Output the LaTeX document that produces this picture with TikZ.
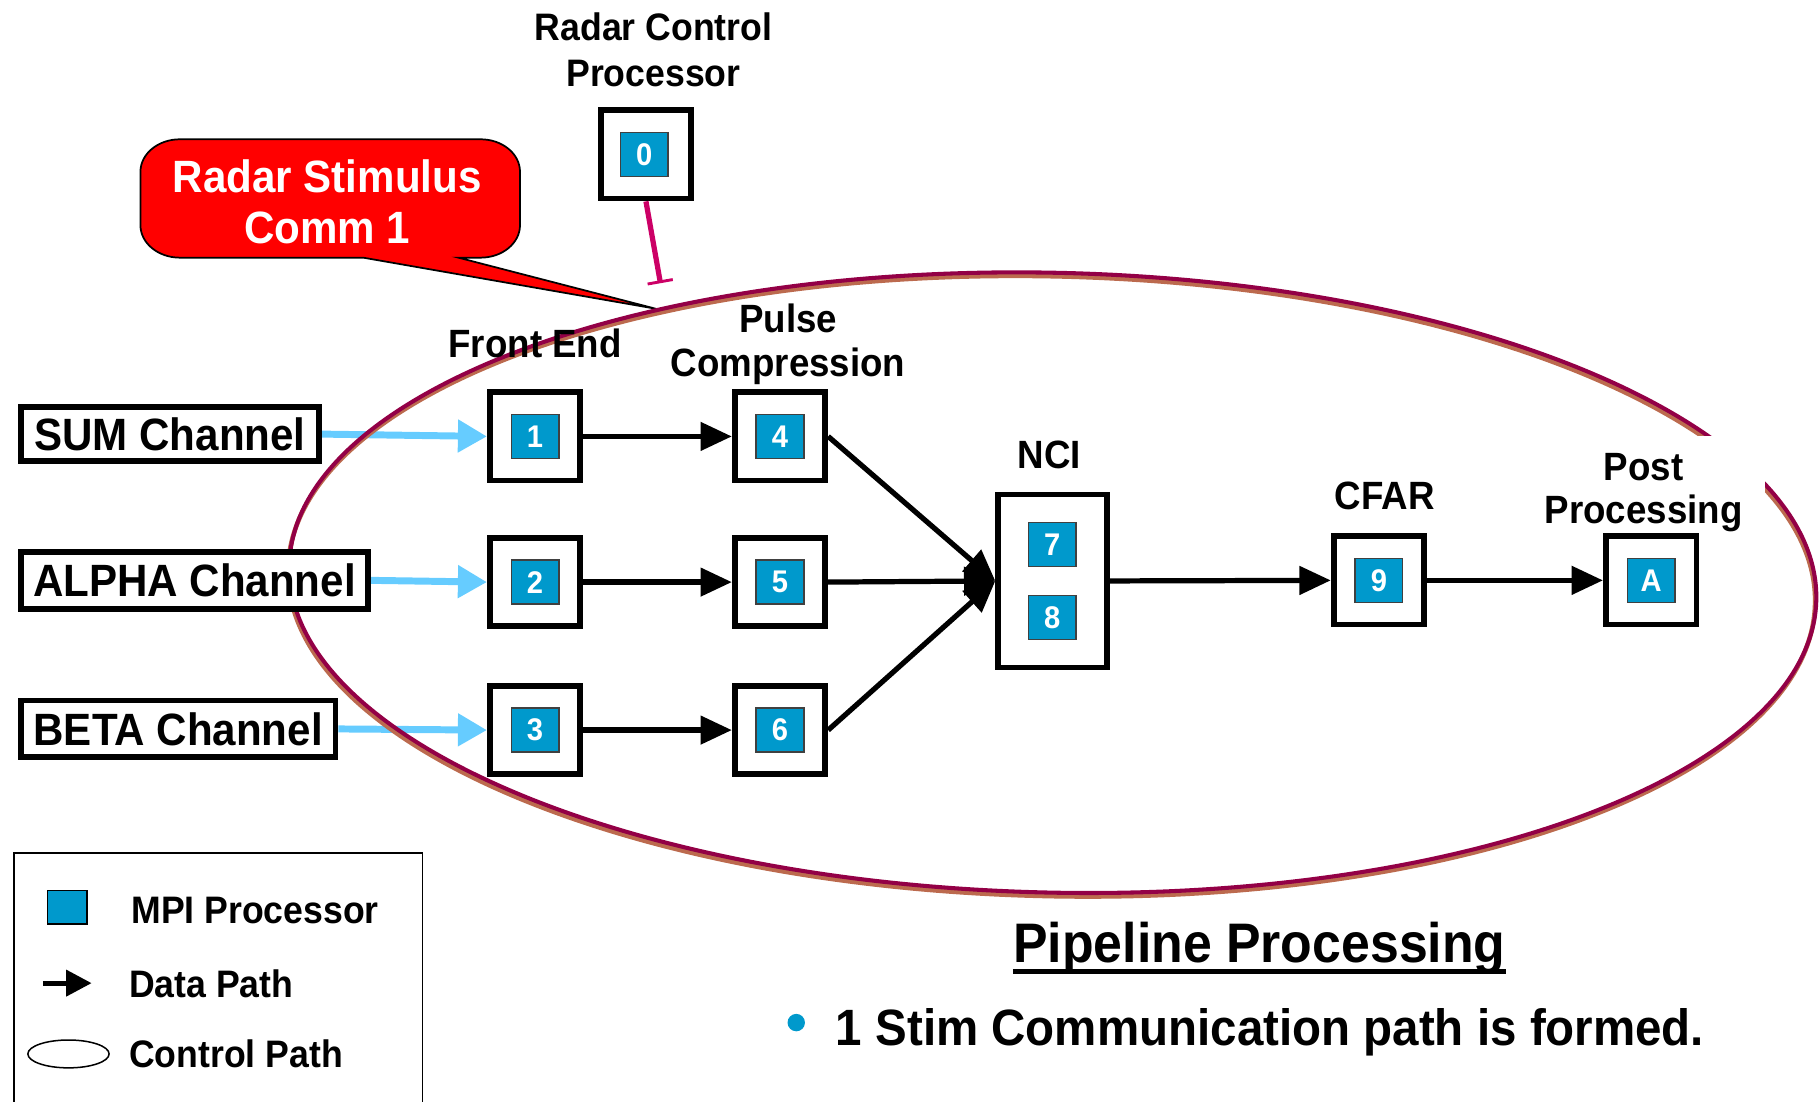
\documentclass[tikz,border=0pt]{standalone}
\usepackage{fontspec}
\setmainfont{Liberation Sans}[FakeStretch=0.93]
\usetikzlibrary{arrows.meta}
\definecolor{mpiblue}{HTML}{0099CC}
\definecolor{feedblue}{HTML}{66CCFF}
\definecolor{ellred}{HTML}{930046}
\definecolor{ellbrown}{HTML}{BC6A4E}
\definecolor{ctrlpink}{HTML}{CC0066}
\newcommand\fsz[2]{\fontsize{#1}{#2}\selectfont\bfseries}
\begin{document}
\begin{tikzpicture}[x=1pt,y=-1pt,
  chan/.style={draw, line width=5pt, fill=white, anchor=west, inner sep=0pt, font=\fsz{39}{44}},
  procbox/.style={draw, line width=5pt, fill=white, minimum width=78pt, minimum height=76pt, inner sep=0pt},
  mpi/.style={draw=black!75, line width=1.3pt, fill=mpiblue, minimum width=41pt, minimum height=38pt, inner sep=0pt, text=white, font=\fsz{27}{30}},
  lbl/.style={align=center, inner sep=0pt, font=\fsz{34}{38}},
  data/.style={line width=4.5pt, -{Triangle[length=27pt,width=24pt]}},
  feed/.style={draw=feedblue, line width=6pt, -{Triangle[length=25pt,width=27pt]}},
  legtxt/.style={anchor=base west, inner sep=0pt, font=\fsz{33}{38}},
]
\useasboundingbox (0,0) rectangle (1568,949);

% Radar control processor
\node[lbl, font=\fsz{33}{40}] (rcplbl) at (563,43) {Radar Control\\Processor};
\node[procbox] (b0) at (556.5,133) {};
\node[mpi] (p0) at (555,133) {0};
\coordinate (ctrlend) at (569,244);
\draw[ctrlpink, line width=4.5pt, -{Bar[width=22pt,line width=2.5pt]}] (b0.south) -- (ctrlend);

% callout
\filldraw[fill=red, draw=black, line width=1.5pt]
  (155,120) -- (414,120) arc(270:360:34 and 28) -- (448,194) arc(0:90:34 and 28)
  -- (395,222) -- (565,266) -- (313,222) -- (155,222) arc(90:180:34 and 28)
  -- (121,148) arc(180:270:34 and 28) -- cycle;
\node[align=center, inner sep=0pt, text=white, font=\fsz{39}{44}] (callout) at (282,174) {Radar Stimulus\\Comm 1};

% processor boxes
\node[procbox] (b1) at (461,376) {};
\node[procbox] (b2) at (461,501.5) {};
\node[procbox] (b3) at (461,629) {};
\node[procbox] (b4) at (672,376) {};
\node[procbox] (b5) at (672,501.5) {};
\node[procbox] (b6) at (672,629) {};
\node[procbox, minimum width=94pt, minimum height=149pt] (nci) at (907,500.5) {};
\node[procbox] (b9) at (1188,500) {};

% channel boxes
\path (15.5,374) coordinate (sumw) (15.5,500) coordinate (alphaw) (15.5,628) coordinate (betaw);
\node[chan, minimum width=257pt, minimum height=47pt] (chsum) at (sumw) {SUM Channel};
\node[chan, minimum width=299pt, minimum height=49pt] (chalpha) at (alphaw) {ALPHA Channel};
\node[chan, minimum width=271pt, minimum height=49pt] (chbeta) at (betaw) {BETA Channel};

% feed arrows
\draw[feed] (chsum.east) -- (b1.west);
\draw[feed] (chalpha.east) -- (b2.west);
\draw[feed] (chbeta.east) -- (b3.west);

% control path ellipse
\draw[ellbrown, line width=4pt, rotate around={-1.3:(906,505)}] (906,505) ellipse (658 and 267);
\draw[ellred, line width=3.5pt, rotate around={-1.3:(907,502)}] (907,502) ellipse (658 and 267);

% channel boxes drawn again above the ellipse
\node[chan, minimum width=257pt, minimum height=47pt] at (sumw) {SUM Channel};
\node[chan, minimum width=299pt, minimum height=49pt] at (alphaw) {ALPHA Channel};
\node[chan, minimum width=271pt, minimum height=49pt] at (betaw) {BETA Channel};

% white patch behind Post Processing label
\fill[white] (1328,376) rectangle (1521,456);
\node[procbox] (bA) at (1422.5,500) {};

% inner MPI processors
\node[mpi] (p1) at (b1) {1};
\node[mpi] (p2) at (b2) {2};
\node[mpi] (p3) at (b3) {3};
\node[mpi] (p4) at (b4) {4};
\node[mpi] (p5) at (b5) {5};
\node[mpi] (p6) at (b6) {6};
\node[mpi] (p7) at (906.5,469) {7};
\node[mpi] (p8) at (906.5,532) {8};
\node[mpi] (p9) at (b9) {9};
\node[mpi] (pA) at (bA) {A};

% data paths
\draw[data] (b1.east) -- (b4.west);
\draw[data] (b2.east) -- (b5.west);
\draw[data] (b3.east) -- (b6.west);
\draw[data] (b4.east) -- (nci.west);
\draw[data] (b5.east) -- (nci.west);
\draw[data] (b6.east) -- (nci.west);
\draw[data] (nci.east) -- (b9.west);
\draw[data] (b9.east) -- (bA.west);

% stage labels
\node[lbl] (lfe) at (461,296) {Front End};
\node[lbl] (lpc) at (679,297) {Pulse\\Compression};
\node[lbl] (lnci) at (904,392) {NCI};
\node[lbl] (lcfar) at (1193,427) {CFAR};
\node[lbl, font=\fsz{34}{37}] (lpp) at (1416,424) {Post\\Processing};

% legend
\draw[line width=1.3pt] (12,955) -- (12,735) -- (364,735) -- (364,955);
\node[draw=black, line width=1.2pt, fill=mpiblue, minimum width=34pt, minimum height=29pt, inner sep=0pt] (legsq) at (58,781.5) {};
\node[legtxt] (legmpi) at (113,796) {MPI Processor};
\coordinate (legas) at (37,847);
\coordinate (legae) at (79,847);
\draw[line width=4.5pt, -{Triangle[length=22pt,width=22pt]}] (legas) -- (legae);
\node[legtxt] (legdata) at (111,859) {Data Path};
\draw[line width=1.3pt] (59,908) ellipse (35 and 12);
\node[legtxt] (legctrl) at (111,920) {Control Path};

% title and bullet
\node[anchor=base, inner sep=0pt, font=\fsz{48}{54}] (title) at (1085,829) {Pipeline Processing};
\draw[line width=4pt] ([yshift=-8pt]title.base west) -- ([yshift=-8pt]title.base east);
\fill[mpiblue] (686,881) circle (7.5);
\node[anchor=base west, inner sep=0pt, font=\fsz{44}{50}] (bullet) at (720,901) {1 Stim Communication path is formed.};
\end{tikzpicture}
\end{document}
